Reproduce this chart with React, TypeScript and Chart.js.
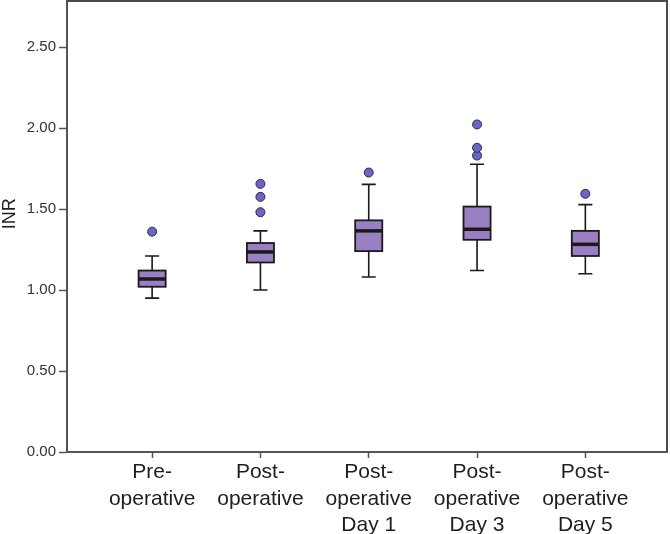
import React, { useEffect, useRef } from "react";
import { Chart, registerables } from "chart.js";

Chart.register(...registerables);

const categories: string[][] = [
  ["Pre-", "operative"],
  ["Post-", "operative"],
  ["Post-", "operative", "Day 1"],
  ["Post-", "operative", "Day 3"],
  ["Post-", "operative", "Day 5"],
];
const yTitle = "INR";
const whiskerLow = [0.95, 1.0, 1.08, 1.12, 1.1];
const q1 = [1.02, 1.17, 1.24, 1.31, 1.21];
const median = [1.068, 1.235, 1.365, 1.375, 1.282];
const q3 = [1.12, 1.29, 1.43, 1.515, 1.365];
const whiskerHigh = [1.21, 1.365, 1.652, 1.776, 1.527];
const outliers: number[][] = [[1.36], [1.48, 1.575, 1.655], [1.725], [1.83, 1.878, 2.022], [1.594]];
const yTicks = [0, 0.5, 1.0, 1.5, 2.0, 2.5];

const boxPlugin = {
  id: "boxes",
  beforeDatasetsDraw(chart: any) {
    const { ctx, scales } = chart;
    const x = scales.x;
    const y = scales.y;
    ctx.save();
    for (let i = 0; i < categories.length; i++) {
      const cx = x.getPixelForValue(i);
      const bl = x.getPixelForValue(i - 0.125);
      const br = x.getPixelForValue(i + 0.125);
      const cl = x.getPixelForValue(i - 0.065);
      const cr = x.getPixelForValue(i + 0.065);
      const yLo = y.getPixelForValue(whiskerLow[i]);
      const yHi = y.getPixelForValue(whiskerHigh[i]);
      const yQ1 = y.getPixelForValue(q1[i]);
      const yQ3 = y.getPixelForValue(q3[i]);
      const yMed = y.getPixelForValue(median[i]);
      ctx.strokeStyle = "#1a1a1a";
      ctx.lineWidth = 1.6;
      ctx.beginPath();
      ctx.moveTo(cx, yHi);
      ctx.lineTo(cx, yQ3);
      ctx.moveTo(cx, yQ1);
      ctx.lineTo(cx, yLo);
      ctx.moveTo(cl, yHi);
      ctx.lineTo(cr, yHi);
      ctx.moveTo(cl, yLo);
      ctx.lineTo(cr, yLo);
      ctx.stroke();
      ctx.fillStyle = "#9a80c2";
      ctx.fillRect(bl, yQ3, br - bl, yQ1 - yQ3);
      ctx.lineWidth = 1.8;
      ctx.strokeRect(bl, yQ3, br - bl, yQ1 - yQ3);
      ctx.lineWidth = 3.5;
      ctx.beginPath();
      ctx.moveTo(bl, yMed);
      ctx.lineTo(br, yMed);
      ctx.stroke();
    }
    ctx.restore();
  },
  afterDraw(chart: any) {
    const { ctx, chartArea, scales } = chart;
    ctx.save();
    ctx.strokeStyle = "#4a4a4a";
    ctx.lineWidth = 2;
    ctx.beginPath();
    ctx.moveTo(chartArea.left, chartArea.top);
    ctx.lineTo(chartArea.right, chartArea.top);
    ctx.lineTo(chartArea.right, chartArea.bottom);
    ctx.stroke();
    // y-axis title
    const ty = scales.y.getPixelForValue(1.47);
    ctx.translate(10, ty);
    ctx.rotate(-Math.PI / 2);
    ctx.fillStyle = "#1e1e1e";
    ctx.font = "18px 'Liberation Sans', Arial, sans-serif";
    ctx.textAlign = "center";
    ctx.textBaseline = "middle";
    ctx.fillText(yTitle, 0, 0);
    ctx.restore();
  },
};

export default function App() {
  const ref = useRef<HTMLCanvasElement>(null);
  useEffect(() => {
    const points: { x: number; y: number }[] = [];
    outliers.forEach((arr, i) => arr.forEach((v) => points.push({ x: i, y: v })));
    const chart = new Chart(ref.current!, {
      type: "scatter",
      data: {
        datasets: [
          {
            data: points,
            pointRadius: 4.5,
            pointBackgroundColor: "#6a66c2",
            pointBorderColor: "#2a2850",
            pointBorderWidth: 1,
          },
        ],
      },
      options: {
        responsive: false,
        animation: false,
        layout: { autoPadding: false, padding: { top: 1, right: 3, left: 3, bottom: 0 } },
        plugins: { legend: { display: false }, tooltip: { enabled: false } },
        scales: {
          x: {
            type: "linear",
            min: -0.786,
            max: 4.754,
            afterBuildTicks: (s: any) => {
              s.ticks = categories.map((_, i) => ({ value: i }));
            },
            afterFit: (s: any) => {
              s.height = 82;
              s.paddingLeft = 0;
              s.paddingRight = 0;
            },
            grid: { drawOnChartArea: false, tickLength: 6, color: "#555", tickWidth: 1.5 },
            border: { color: "#555", width: 2 },
            ticks: {
              autoSkip: false,
              maxRotation: 0,
              padding: 1,
              color: "#1e1e1e",
              font: { family: "Liberation Sans, Arial, sans-serif", size: 21, lineHeight: 1.27 },
              callback: (v: any) => categories[Math.round(Number(v))] || "",
            },
          },
          y: {
            min: 0,
            max: 2.784,
            afterBuildTicks: (s: any) => {
              s.ticks = yTicks.map((v) => ({ value: v }));
            },
            afterFit: (s: any) => {
              s.width = 64;
              s.paddingTop = 0;
              s.paddingBottom = 0;
            },
            grid: { drawOnChartArea: false, tickLength: 8, color: "#555", tickWidth: 1.5 },
            border: { color: "#555", width: 2 },
            title: { display: false },
            ticks: {
              padding: 3,
              color: "#333",
              font: { family: "Liberation Sans, Arial, sans-serif", size: 15 },
              callback: (v: any) => Number(v).toFixed(2),
            },
          },
        },
      },
      plugins: [boxPlugin],
    });
    return () => chart.destroy();
  }, []);
  return (
    <div style={{ position: "fixed", left: 0, top: 0, width: 670, height: 534, background: "#fff" }}>
      <canvas ref={ref} width={670} height={534} />
    </div>
  );
}
